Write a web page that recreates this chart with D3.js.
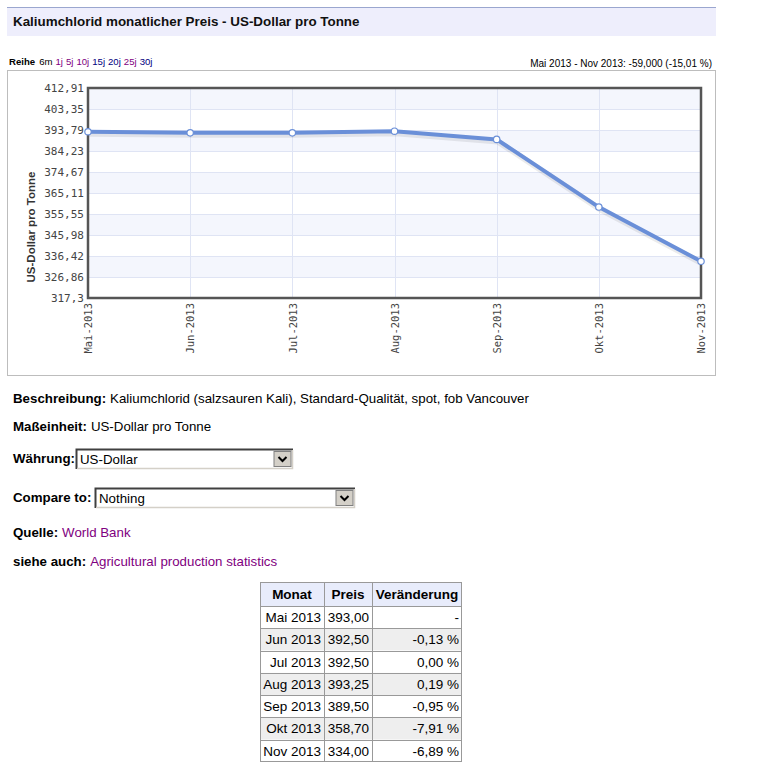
<!DOCTYPE html>
<html><head><meta charset="utf-8">
<script src="https://cdn.jsdelivr.net/npm/d3@7"></script>
<style>
body{margin:0;background:#fff;}
svg{display:block;}
</style></head>
<body>
<svg id="c" width="768" height="764"></svg>
<script>
const title = "Kaliumchlorid monatlicher Preis - US-Dollar pro Tonne";
const months = ["Mai-2013","Jun-2013","Jul-2013","Aug-2013","Sep-2013","Okt-2013","Nov-2013"];
const prices = [393.00, 392.50, 392.50, 393.25, 389.50, 358.70, 334.00];
const yTicks = [317.3, 326.86, 336.42, 345.98, 355.55, 365.11, 374.67, 384.23, 393.79, 403.35, 412.91];
const yTickLabels = ["317,3","326,86","336,42","345,98","355,55","365,11","374,67","384,23","393,79","403,35","412,91"];
const rangeLinks = ["1j","5j","10j","15j","20j","25j","30j"];
const rangeColors = ["#800080","#800080","#800080","#000080","#000080","#800080","#000080"];
const tableMonths = ["Mai 2013","Jun 2013","Jul 2013","Aug 2013","Sep 2013","Okt 2013","Nov 2013"];
const tablePrices = ["393,00","392,50","392,50","393,25","389,50","358,70","334,00"];
const tableChanges = ["-","-0,13 %","0,00 %","0,19 %","-0,95 %","-7,91 %","-6,89 %"];
const tableHeaders = ["Monat","Preis","Veränderung"];

const svg = d3.select("#c");
const sans = "'Liberation Sans', Arial, sans-serif";
const mono = "'DejaVu Sans Mono', monospace";

// Header band
svg.append("rect").attr("x",7).attr("y",7).attr("width",709).attr("height",29).attr("fill","#eeeefc");
svg.append("line").attr("x1",7).attr("x2",716).attr("y1",7.5).attr("y2",7.5).attr("stroke","#9aa6cf");
svg.append("text").attr("x",13).attr("y",26).attr("font-family",sans).attr("font-weight","bold")
  .attr("font-size",13.4).attr("fill","#111").text(title);

// Reihe line
const rt = svg.append("text").attr("x",9).attr("y",65).attr("font-family",sans).attr("font-size",9.6);
rt.append("tspan").attr("font-weight","bold").attr("fill","#000").text("Reihe");
rt.append("tspan").attr("dx",4).attr("fill","#000").text("6m");
rangeLinks.forEach((r,i)=>rt.append("tspan").attr("dx",3).attr("fill",rangeColors[i]).text(r));
svg.append("text").attr("x",712).attr("y",67).attr("text-anchor","end").attr("font-family",sans)
  .attr("font-size",10).attr("fill","#000").text("Mai 2013 - Nov 2013: -59,000 (-15,01 %)");

// Outer chart frame
svg.append("rect").attr("x",7.5).attr("y",70.5).attr("width",708).attr("height",305)
  .attr("fill","#fff").attr("stroke","#bdbdbd");

// Plot
const L=88,R=701,T=88,B=298;
const x = d3.scalePoint().domain(months).range([L,R]);
const y = d3.scaleLinear().domain([317.3,412.91]).range([B,T]);
const g = svg.append("g");
// bands
for(let i=0;i<yTicks.length-1;i++){
  const shaded = ((yTicks.length-2-i)%2===0);
  g.append("rect").attr("x",L).attr("width",R-L)
   .attr("y",y(yTicks[i+1])).attr("height",y(yTicks[i])-y(yTicks[i+1]))
   .attr("fill",shaded?"#f4f6fd":"#ffffff");
}
// grid
g.selectAll(".hg").data(yTicks).join("line").attr("x1",L).attr("x2",R)
  .attr("y1",d=>Math.round(y(d))+0.5).attr("y2",d=>Math.round(y(d))+0.5).attr("stroke","#dfe4f4");
g.selectAll(".vg").data(months).join("line").attr("y1",T).attr("y2",B)
  .attr("x1",d=>Math.round(x(d))+0.5).attr("x2",d=>Math.round(x(d))+0.5).attr("stroke","#dfe4f4");

// y axis labels
const yAxis = d3.axisLeft(y).tickValues(yTicks).tickSize(0).tickPadding(4)
  .tickFormat((d,i)=>yTickLabels[i]);
const ya = svg.append("g").attr("transform",`translate(${L},0)`).call(yAxis);
ya.select(".domain").remove();
ya.selectAll("text").attr("font-family",mono).attr("font-size",11).attr("fill","#444");

// x axis labels
const xAxis = d3.axisBottom(x).tickSize(0).tickPadding(0);
const xa = svg.append("g").attr("transform",`translate(0,${B})`).call(xAxis);
xa.select(".domain").remove();
xa.selectAll("text").attr("font-family",mono).attr("font-size",10.5).attr("fill","#444")
  .attr("text-anchor","end").attr("dy","0.35em").attr("transform","translate(0,5) rotate(-90)")
  .attr("x",0).attr("y",0);

// axis title
svg.append("text").attr("transform","translate(35,227) rotate(-90)").attr("text-anchor","middle")
  .attr("font-family",sans).attr("font-weight","bold").attr("font-size",11.5).attr("fill","#333")
  .text("US-Dollar pro Tonne");

// line
const line = d3.line().x((d,i)=>x(months[i])).y(d=>y(d));
svg.append("path").datum(prices).attr("d",line).attr("fill","none").attr("stroke","#000")
  .attr("stroke-opacity",0.08).attr("stroke-width",6).attr("transform","translate(1,2)");
svg.append("path").datum(prices).attr("d",line).attr("fill","none").attr("stroke","#6a8fd8")
  .attr("stroke-width",4).attr("stroke-linejoin","round");

// plot border
svg.append("rect").attr("x",L).attr("y",T).attr("width",R-L).attr("height",B-T)
  .attr("fill","none").attr("stroke","#555").attr("stroke-width",2.5);

// points
svg.selectAll(".pt").data(prices).join("circle").attr("cx",(d,i)=>x(months[i])).attr("cy",d=>y(d))
  .attr("r",3.2).attr("fill","#fff").attr("stroke","#6a8fd8").attr("stroke-width",1.2);

// Info texts
const fs = 13.3;
function info(yy,label,value,color){
  const t = svg.append("text").attr("x",13).attr("y",yy).attr("font-family",sans).attr("font-size",fs).attr("fill","#000");
  t.append("tspan").attr("font-weight","bold").text(label);
  if(value) t.append("tspan").attr("dx",4).attr("fill",color||"#000").text(value);
  return t;
}
info(403,"Beschreibung:","Kaliumchlorid (salzsauren Kali), Standard-Qualität, spot, fob Vancouver");
info(431,"Maßeinheit:","US-Dollar pro Tonne");
info(463,"Währung:");
info(502,"Compare to:");
info(537,"Quelle:","World Bank","#800080");
info(566,"siehe auch:","Agricultural production statistics","#800080");

function select(x0,x1,y0,y1,val){
  svg.append("rect").attr("x",x0).attr("y",y0).attr("width",x1-x0).attr("height",y1-y0).attr("fill","#fff");
  svg.append("path").attr("d",`M${x0+0.5},${y1}V${y0+0.5}H${x1}`).attr("fill","none").attr("stroke","#404040").attr("stroke-width",2);
  svg.append("path").attr("d",`M${x0+1},${y1-0.5}H${x1-0.5}V${y0+1}`).attr("fill","none").attr("stroke","#d4d0c8").attr("stroke-width",1.5);
  const bx = x1-19, by=y0+2.5, bs=y1-y0-5;
  svg.append("rect").attr("x",bx).attr("y",by).attr("width",17).attr("height",bs).attr("fill","#d4d0c8").attr("stroke","#808080");
  svg.append("path").attr("d",`M${bx+4.5},${by+bs/2-2}L${bx+8.5},${by+bs/2+2}L${bx+12.5},${by+bs/2-2}`)
    .attr("fill","none").attr("stroke","#000").attr("stroke-width",2);
  svg.append("text").attr("x",x0+4).attr("y",y1-5).attr("font-family",sans).attr("font-size",fs).attr("fill","#000").text(val);
}
select(76,293,449,469,"US-Dollar");
select(95,355,488,508,"Nothing");

// Table
const colX=[260,324,372,462];
const rowY0=582, headH=24, rowH=(762-606)/7;
const tfs = 13.5;
const tg = svg.append("g");
tg.append("rect").attr("x",colX[0]).attr("y",rowY0).attr("width",colX[3]-colX[0]).attr("height",headH).attr("fill","#e8ecfb");
tableMonths.forEach((m,i)=>{
  tg.append("rect").attr("x",colX[0]).attr("y",rowY0+headH+i*rowH).attr("width",colX[3]-colX[0]).attr("height",rowH)
    .attr("fill",i%2===1?"#eeeeee":"#ffffff");
});
// borders
tg.append("rect").attr("x",colX[0]+0.5).attr("y",rowY0+0.5).attr("width",colX[3]-colX[0]-1).attr("height",762-rowY0-1)
  .attr("fill","none").attr("stroke","#999");
colX.slice(1,3).forEach(cx=>tg.append("line").attr("x1",cx+0.5).attr("x2",cx+0.5).attr("y1",rowY0).attr("y2",762).attr("stroke","#999"));
for(let i=0;i<7;i++){
  const yy=Math.round(rowY0+headH+i*rowH)+0.5;
  tg.append("line").attr("x1",colX[0]).attr("x2",colX[3]).attr("y1",yy).attr("y2",yy).attr("stroke","#999");
}
tableHeaders.forEach((h,j)=>{
  tg.append("text").attr("x",(colX[j]+colX[j+1])/2).attr("y",rowY0+17).attr("text-anchor","middle")
    .attr("font-family",sans).attr("font-weight","bold").attr("font-size",tfs).attr("fill","#000").text(h);
});
const cols=[tableMonths,tablePrices,tableChanges];
cols.forEach((col,j)=>{
  col.forEach((v,i)=>{
    tg.append("text").attr("x",colX[j+1]-3).attr("y",rowY0+headH+i*rowH+16).attr("text-anchor","end")
      .attr("font-family",sans).attr("font-size",tfs).attr("fill","#000").text(v);
  });
});
</script>
</body></html>
